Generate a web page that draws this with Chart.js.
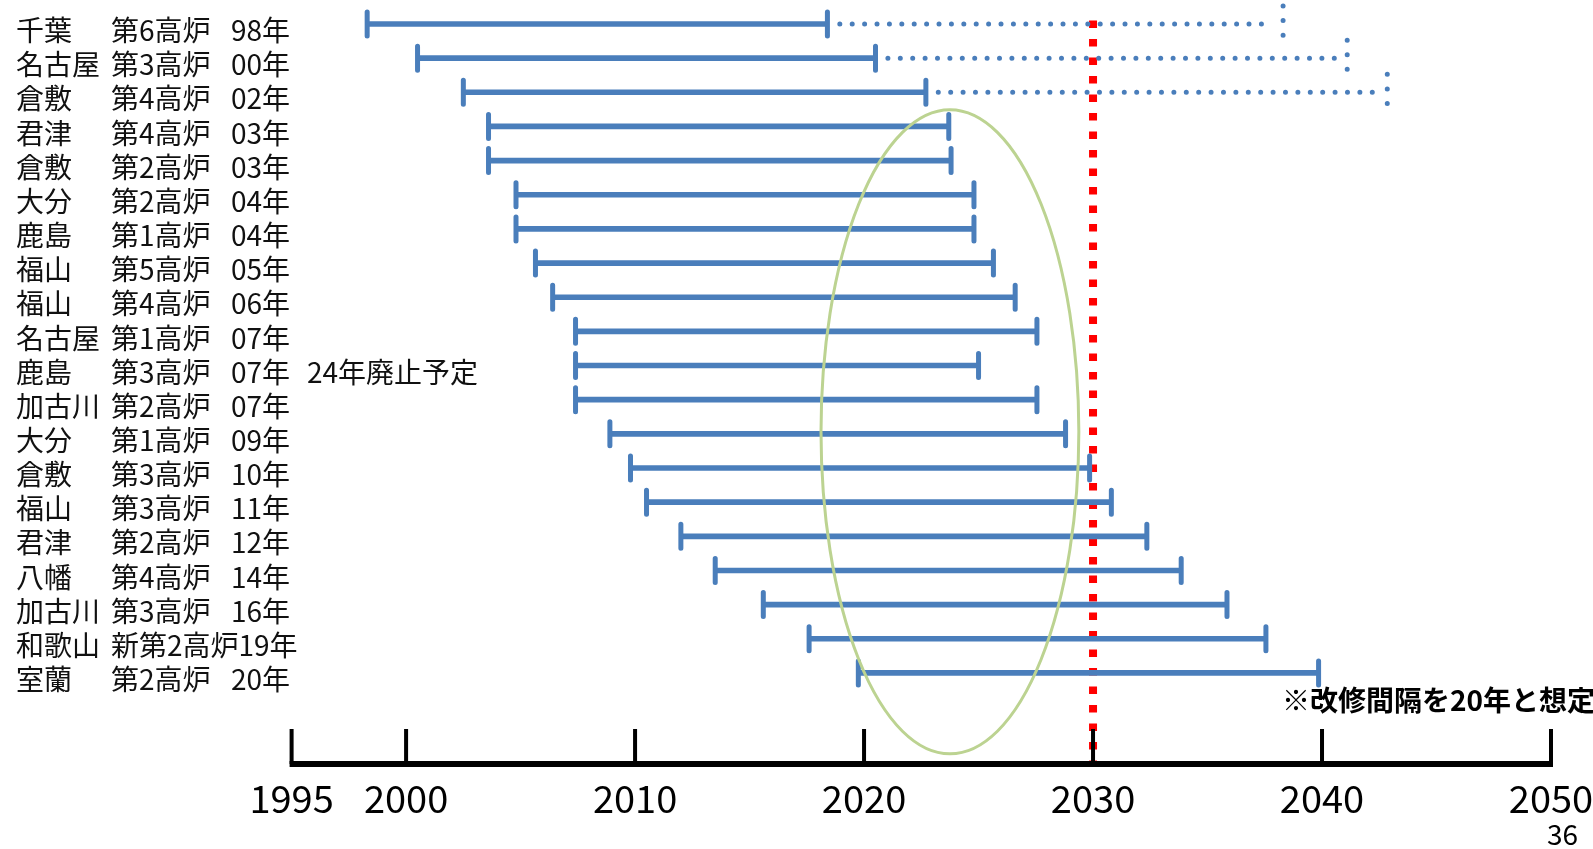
<!DOCTYPE html>
<html><head><meta charset="utf-8">
<script src="https://cdn.jsdelivr.net/npm/chart.js@4.4.1/dist/chart.umd.min.js"></script>
<style>html,body{margin:0;padding:0;background:#fff;}#wrap{width:1593px;height:849px;position:relative}canvas{display:block}</style>
</head><body><div id="wrap"><canvas id="c" width="1593" height="849"></canvas></div>
<script>
// ---- data ----
const sites = ['千葉','名古屋','倉敷','君津','倉敷','大分','鹿島','福山','福山','名古屋','鹿島','加古川','大分','倉敷','福山','君津','八幡','加古川','和歌山','室蘭'];
const furnaces = ['第6高炉','第3高炉','第4高炉','第4高炉','第2高炉','第2高炉','第1高炉','第5高炉','第4高炉','第1高炉','第3高炉','第2高炉','第1高炉','第3高炉','第3高炉','第2高炉','第4高炉','第3高炉','新第2高炉','第2高炉'];
const relineYears = ['98年','00年','02年','03年','03年','04年','04年','05年','06年','07年','07年','07年','09年','10年','11年','12年','14年','16年','19年','20年'];
const startYears = [1998.3,2000.5,2002.5,2003.6,2003.6,2004.8,2004.8,2005.65,2006.4,2007.4,2007.4,2007.4,2008.9,2009.8,2010.5,2012.0,2013.5,2015.6,2017.6,2019.75];
const endYears   = [2018.4,2020.5,2022.7,2023.7,2023.8,2024.8,2024.8,2025.65,2026.6,2027.55,2025.0,2027.55,2028.8,2029.85,2030.8,2032.35,2033.85,2035.85,2037.55,2039.85];
const extendedEnds = [2038.3,2041.1,2042.85,null,null,null,null,null,null,null,null,null,null,null,null,null,null,null,null,null];
const xTickValues = [1995,2000,2010,2020,2030,2040,2050];
const targetYear = 2030;
const remarkRow = 10;
const remarkText = '24年廃止予定';
const footnoteText = '※改修間隔を20年と想定';
const pageNumber = '36';
// highlighted region (ellipse) in data units: years and row index
const ellipseYears = [2018.12, 2029.38];
const ellipseRows = [2.51, 21.37];

// ---- styles ----
const FONT = '"Noto Sans CJK JP", "Noto Sans", sans-serif';
const BLUE = '#4a7ebb';

const labels = sites.map((s,i)=>s+' '+furnaces[i]+' '+relineYears[i]);
const barData = startYears.map((s,i)=>[s, endYears[i]]);

const overlay = {
  id: 'overlay',
  beforeDatasetsDraw(chart){
    const {ctx, chartArea, scales:{x,y}} = chart;
    const axisY = chartArea.bottom + 74;
    ctx.save();
    ctx.strokeStyle = '#ff0000';
    ctx.lineWidth = 8;
    ctx.setLineDash([7.5, 11]);
    const rx = x.getPixelForValue(targetYear);
    ctx.beginPath();
    ctx.moveTo(rx, y.getPixelForValue(-0.1));
    ctx.lineTo(rx, axisY + 3);
    ctx.stroke();
    ctx.restore();
  },
  afterDatasetsDraw(chart){
    const {ctx, chartArea, scales:{x,y}} = chart;
    ctx.save();
    // caps and dotted extensions
    ctx.strokeStyle = BLUE;
    ctx.lineCap = 'round';
    for(let i=0;i<startYears.length;i++){
      const py = y.getPixelForValue(i);
      const xs = x.getPixelForValue(startYears[i]);
      const xe = x.getPixelForValue(endYears[i]);
      ctx.lineWidth = 5;
      ctx.setLineDash([]);
      ctx.beginPath();
      ctx.moveTo(xs, py-12); ctx.lineTo(xs, py+12);
      ctx.moveTo(xe, py-12); ctx.lineTo(xe, py+12);
      ctx.stroke();
      if(extendedEnds[i] != null){
        const xx = x.getPixelForValue(extendedEnds[i]);
        ctx.lineWidth = 5;
        ctx.setLineDash([0, 12.4]);
        ctx.beginPath();
        ctx.moveTo(xe+12.4, py); ctx.lineTo(xx-10, py);
        ctx.stroke();
        ctx.setLineDash([0, 14.6]);
        ctx.beginPath();
        ctx.moveTo(xx, py-18); ctx.lineTo(xx, py+13);
        ctx.stroke();
      }
    }
    ctx.setLineDash([]);
    // ellipse
    const ex0 = x.getPixelForValue(ellipseYears[0]), ex1 = x.getPixelForValue(ellipseYears[1]);
    const ey0 = y.getPixelForValue(ellipseRows[0]), ey1 = y.getPixelForValue(ellipseRows[1]);
    ctx.strokeStyle = '#bcd391';
    ctx.lineWidth = 3;
    ctx.beginPath();
    ctx.ellipse((ex0+ex1)/2, (ey0+ey1)/2, (ex1-ex0)/2, (ey1-ey0)/2, 0, 0, Math.PI*2);
    ctx.stroke();
    // axis line and upward ticks
    const axisY = chartArea.bottom + 74;
    ctx.strokeStyle = '#000';
    ctx.lineCap = 'butt';
    ctx.lineWidth = 6;
    const a0 = x.getPixelForValue(xTickValues[0]), a1 = x.getPixelForValue(xTickValues[xTickValues.length-1]);
    ctx.beginPath(); ctx.moveTo(a0-2, axisY); ctx.lineTo(a1+2, axisY); ctx.stroke();
    ctx.lineWidth = 4;
    ctx.beginPath();
    xTickValues.forEach(v=>{ const px = x.getPixelForValue(v); ctx.moveTo(px, axisY); ctx.lineTo(px, axisY-35); });
    ctx.stroke();
    // row labels
    ctx.fillStyle = '#111';
    ctx.textBaseline = 'middle';
    ctx.textAlign = 'left';
    ctx.font = '28px ' + FONT;
    for(let i=0;i<sites.length;i++){
      const ty = y.getPixelForValue(i) + 6.5;
      ctx.fillText(sites[i], 16, ty);
      ctx.fillText(furnaces[i], 111, ty);
      const w = ctx.measureText(furnaces[i]).width;
      ctx.fillText(relineYears[i], Math.max(231, 111 + w), ty);
    }
    ctx.fillText(remarkText, 307, y.getPixelForValue(remarkRow) + 6.5);
    // footnote
    ctx.font = 'bold 28px ' + FONT;
    ctx.fillStyle = '#000';
    ctx.fillText(footnoteText, 1282, 700);
    ctx.font = '28px ' + FONT;
    ctx.textAlign = 'right';
    ctx.fillText(pageNumber, 1578, 834);
    ctx.restore();
  }
};

new Chart(document.getElementById('c'), {
  type: 'bar',
  data: {
    labels: labels,
    datasets: [{
      data: barData,
      backgroundColor: BLUE,
      borderWidth: 0,
      barThickness: 5
    }]
  },
  options: {
    indexAxis: 'y',
    responsive: false,
    animation: false,
    devicePixelRatio: 1,
    layout: { padding: { left: 291.6, right: 42, top: 6.9, bottom: 0 } },
    plugins: { legend: { display: false }, tooltip: { enabled: false } },
    scales: {
      x: {
        type: 'linear',
        min: 1995, max: 2050,
        afterBuildTicks: s => { s.ticks = xTickValues.map(v => ({ value: v })); },
        afterFit: s => { s.height = 159; s.paddingLeft = 0; s.paddingRight = 0; },
        grid: { display: false, drawTicks: false },
        border: { display: false },
        ticks: {
          autoSkip: false, maxRotation: 0, padding: 86,
          color: '#000',
          font: { family: FONT, size: 38 },
          callback: v => String(v)
        }
      },
      y: {
        type: 'category',
        display: false
      }
    }
  },
  plugins: [overlay]
});
</script>
</body></html>
